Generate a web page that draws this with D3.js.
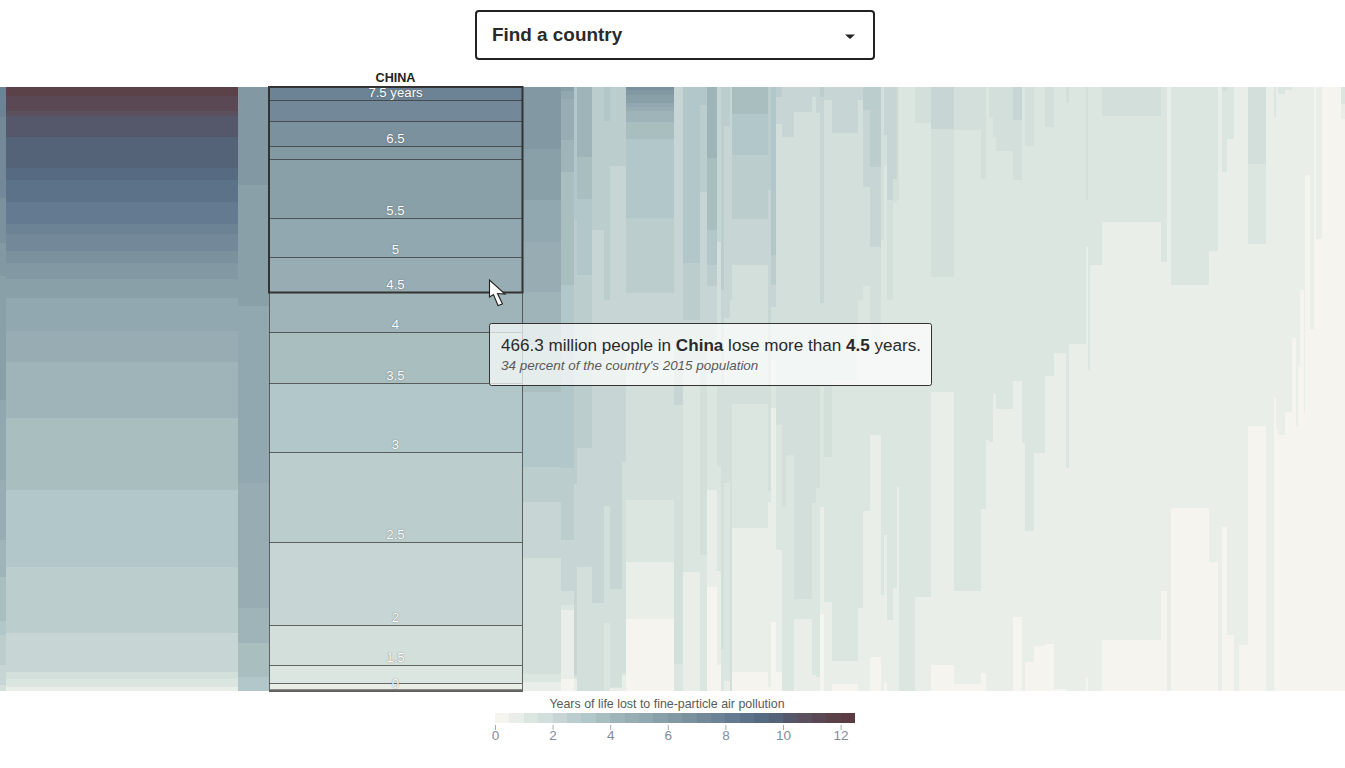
<!DOCTYPE html>
<html><head><meta charset="utf-8">
<script src="https://cdn.jsdelivr.net/npm/d3@7"></script>
<style>
html,body{margin:0;padding:0;background:#fff}
svg{display:block}
text{font-family:"Liberation Sans",Arial,sans-serif}
</style></head><body><svg id="c" width="1345" height="768"></svg>
<script>
// One colour per half-year of life lost, 0 to 12.5
const stepColors = ["#f6f4ef","#e9eee8","#dce6e1","#d2dfda","#c7d6d4","#bccdcd","#b2c7c9","#a8bebf","#9fb4b8","#98adb3","#91a8b0","#8aa0a9","#8298a3","#7b919e","#738898","#6c8295","#637a90","#5c7288","#566b82","#546377","#55586a","#5a505e","#5b4855","#5b4249","#5a3c42"];
const legendTicks = [0,2,4,6,8,10,12];
// Population of each country column, millions
const populations = [33,1276,170.5,1391.5,214.5,71.5,16.5,82.5,66,33,66,22,264,49.5,93.5,38.5,55,22,16.5,33,11,198,16.5,27.5,33,22,44,99,22,22,22,44,143,27.5,38.5,60.5,16.5,16.5,33,22,11,88,88,126.5,148.5,27.5,16.5,22,16.5,93.5,49.5,16.5,49.5,60.5,49.5,66,16.5,93.5,11,11,66,324.5,33,22,209,49.5,22,27.5,38.5,27.5,49.5,99,44,11,11,38.5,38.5,22,11,11,22,5.5,27.5,22,11,33,104.5,22];
// Highest half-year step reached in each column
const topSteps = [15,23,12,15,12,11,6,8,5,6,5,5,13,4,6,6,8,4,5,5,4,7,5,6,5,4,4,4,4,4,5,4,4,4,5,5,3,4,4,4,3,2,3,4,3,3,2,3,3,3,4,2,3,2,3,2,3,2,3,2,2,3,2,1,2,2,1,3,2,1,1,3,1,2,1,2,2,1,1,1,1,1,1,1,0,1,0,2];
// Cumulative percent of each column's people, worst-hit first, where each step ends
const stepEnds = [
[5.0,18.4,25.8,31.3,51.8,65.1,75.0,81.1,88.4,90.7,95.7,99.0,100],
[1.5,4.0,4.8,8.3,13.4,15.4,19.0,22.7,24.3,27.2,29.1,31.8,34.9,40.4,45.5,54.8,66.7,79.5,90.4,96.9,98.0,99.3,100],
[16.2,36.3,65.6,86.3,92.1,97.7,100],
[2.2,5.6,9.8,11.9,21.7,28.2,33.9,40.6,49.0,60.4,75.3,89.1,95.7,98.7,100],
[10.3,18.7,25.7,33.9,42.7,50.5,62.9,68.7,78.0,97.2,98.5,100],
[0.7,2.0,8.8,14.1,32.8,63.1,75.0,83.4,85.8,86.6,98.0,100],
[22.0,65.7,97.4,97.7,98.0,100],
[11.6,18.5,31.1,59.8,79.5,100],
[23.7,85.4,100],
[5.6,35.3,69.4,88.7,100],
[13.1,83.1,99.3,99.5,100],
[13.1,62.1,97.0,97.4,100],
[0.5,1.3,2.6,3.3,4.0,5.8,8.6,21.7,34.1,42.7,68.4,78.6,88.1,100],
[52.6,95.5,100],
[29.1,38.6,45.2,49.3,80.3,100],
[3.0,17.4,49.3,77.5,100],
[11.8,23.7,29.5,33.0,41.9,49.3,66.7,82.8,100],
[25.7,62.8,80.1,95.7,100],
[33.6,49.3,93.0,100],
[6.5,38.2,65.6,98.3,100],
[35.3,100],
[4.5,11.3,21.9,29.5,52.5,73.0,96.9,100],
[17.1,49.3,66.9,68.7,99.3,100],
[27.8,32.8,36.4,45.2,53.1,88.6,100],
[1.7,6.1,56.0,76.7,96.9,100],
[8.3,69.5,100],
[8.3,60.9,100],
[4.1,84.8,88.1,100],
[1.7,68.9,97.4,100],
[4.3,66.4,97.7,100],
[1.7,35.8,49.3,69.5,87.3,100],
[2.2,61.3,85.3,100],
[7.6,48.5,95.0,98.8,100],
[2.2,35.3,86.3,100],
[3.8,16.6,33.0,70.2,100],
[13.2,26.5,41.9,57.6,94.4,100],
[25.3,84.1,100],
[7.9,12.9,74.2,98.7,100],
[18.7,35.3,88.2,100],
[15.2,19.0,82.9,100],
[18.7,66.2,100],
[100],
[6.0,84.4,100],
[7.0,31.5,50.5,95.7,100],
[7.1,83.4,98.8,100],
[15.2,69.9,97.0,100],
[58.4,100],
[5.1,58.8,100],
[8.3,50.8,100],
[10.6,53.3,100],
[5.5,15.4,48.7,87.7,100],
[58.9,100],
[9.8,73.5,95.2,100],
[60.6,92.5,100],
[6.6,47.8,92.2,100],
[44.0,99.7,100],
[2.6,63.1,100],
[42.5,100],
[18.7,26.5,97.7,100],
[46.9,100],
[29.5,100],
[4.8,22.4,91.6,100],
[29.0,83.4,100],
[100],
[32.8,69.7,100],
[27.2,78.6,100],
[100],
[0.7,14.1,72.8,100],
[8.6,90.7,100],
[100],
[92.4,100],
[12.7,26.0,56.1,100],
[100],
[5.0,51.5,100],
[56.6,100],
[1.2,57.6,100],
[0.5,53.8,100],
[41.6,100],
[56.3,100],
[46.0,100],
[33.6,100],
[54.0,100],
[14.6,100],
[40.1,100],
[100],
[25.2,100],
[100],
[2.8,5.3,100]
];
const highlightedIndex = 3;
const highlightedName = "CHINA";
// Labels for China's step ends; empty where the picture has none
const chinaLabels = ["7.5 years","","6.5","","5.5","5","4.5","4","3.5","3","2.5","2","1.5","","0"];
const hoveredStepEnd = 6;
const legendTitle = "Years of life lost to fine-particle air pollution";
const dropdownText = "Find a country";

const svg = d3.select("#c");
const W = 1345, chartTop = 87, chartBottom = 691;
const totalPop = d3.sum(populations);
const x = d3.scaleLinear().domain([0,totalPop]).range([0,W]);
const y = d3.scaleLinear().domain([0,100]).range([chartTop,chartBottom]);

// Columns
const cumPop = d3.cumsum(populations);
const columns = populations.map((p,i)=>({x0:x(cumPop[i]-p),x1:x(cumPop[i]),top:topSteps[i],ends:stepEnds[i]}));
const bands = columns.flatMap(c=>c.ends.map((e,j)=>({x0:c.x0,x1:c.x1,from:j?c.ends[j-1]:0,to:e,step:c.top-j})));
svg.append("g").attr("shape-rendering","crispEdges").selectAll("rect").data(bands).join("rect")
  .attr("x",d=>Math.round(d.x0)).attr("width",d=>Math.round(d.x1)-Math.round(d.x0))
  .attr("y",d=>Math.round(y(d.from))).attr("height",d=>Math.round(y(d.to))-Math.round(y(d.from)))
  .attr("fill",d=>stepColors[d.step]);

// Highlighted country
const hc = columns[highlightedIndex];
const hx0 = Math.round(hc.x0), hx1 = Math.round(hc.x1);
const cx = (hx0+hx1)/2;
const hg = svg.append("g");
hg.selectAll("line").data(hc.ends).join("line")
  .attr("x1",hx0).attr("x2",hx1)
  .attr("y1",d=>Math.round(y(d))+.5).attr("y2",d=>Math.round(y(d))+.5)
  .attr("stroke","#333").attr("stroke-opacity",.72).attr("stroke-width",1);
hg.append("rect").attr("x",hx0+.5).attr("y",y(0)+.5).attr("width",hx1-hx0).attr("height",y(100)-y(0))
  .attr("fill","none").attr("stroke","#444").attr("stroke-opacity",.8);
hg.append("line").attr("x1",hx0).attr("x2",hx1+1).attr("y1",y(100)-.5).attr("y2",y(100)-.5).attr("stroke","#666").attr("stroke-width",2.5);
hg.append("rect").attr("x",hx0).attr("y",y(0)).attr("width",hx1-hx0+.5)
  .attr("height",Math.round(y(hc.ends[hoveredStepEnd]))-y(0)+.5)
  .attr("fill","none").attr("stroke","#333").attr("stroke-width",2);
hg.selectAll("text.lab").data(hc.ends).join("text").attr("class","lab")
  .attr("x",cx).attr("y",d=>Math.round(y(d))-2.6).attr("text-anchor","middle")
  .attr("font-size",13.2).attr("fill","#fff").style("text-shadow","0 0 1.2px rgba(60,60,60,.8)")
  .text((d,i)=>chinaLabels[i]);
svg.append("text").attr("x",cx).attr("y",82).attr("text-anchor","middle")
  .attr("font-size",12.6).attr("font-weight",700).attr("fill","#222").text(highlightedName);

// Dropdown
svg.append("rect").attr("x",476).attr("y",11).attr("width",398).attr("height",48).attr("rx",3)
  .attr("fill","#fff").attr("stroke","#222").attr("stroke-width",2);
svg.append("text").attr("x",492).attr("y",41).attr("font-size",18.9).attr("font-weight",700).attr("fill","#2a2a2a").text(dropdownText);
svg.append("path").attr("d","M845 34.5h10l-5 4.5z").attr("fill","#222");

// Cursor
svg.append("path").attr("d","M489.5 280V297L493.5 294.5L498 305.5L502.5 304L497.5 293.5L505 294Z")
  .attr("fill","#fff").attr("stroke","#222").attr("stroke-width",1.1).attr("stroke-linejoin","miter");

// Tooltip
const tip = svg.append("g");
tip.append("rect").attr("x",489.5).attr("y",323.5).attr("width",442).attr("height",62).attr("rx",2)
  .attr("fill","#fff").attr("fill-opacity",.7).attr("stroke","#333");
const t1 = tip.append("text").attr("x",501).attr("y",351).attr("font-size",17.1).attr("fill","#2a2a2a");
[["466.3 million people in ",400],["China",700],[" lose more than ",400],["4.5",700],[" years.",400]]
  .forEach(([s,w])=>t1.append("tspan").attr("font-weight",w).text(s));
tip.append("text").attr("x",501).attr("y",370).attr("font-size",13.45).attr("font-style","italic").attr("fill","#5a5a5a")
  .text("34 percent of the country's 2015 population");

// Legend
const lx = d3.scaleLinear().domain([0,12.5]).range([495,855]);
svg.append("text").attr("x",667).attr("y",708).attr("text-anchor","middle").attr("font-size",12.4).attr("fill","#5a5a5a").text(legendTitle);
svg.append("g").attr("shape-rendering","crispEdges").selectAll("rect").data(stepColors).join("rect")
  .attr("x",(d,i)=>Math.round(lx(i/2))).attr("width",(d,i)=>Math.round(lx((i+1)/2))-Math.round(lx(i/2))).attr("y",713).attr("height",10).attr("fill",d=>d);
const ax = svg.append("g").attr("transform","translate(0,725)")
  .call(d3.axisBottom(lx).tickValues(legendTicks).tickSize(5).tickFormat(d3.format("d")));
ax.select(".domain").remove();
ax.selectAll("line").attr("stroke","#aaa");
ax.selectAll("text").attr("font-size",13.5).attr("fill","#7f8c9b").attr("font-family",'"Liberation Sans",Arial,sans-serif').attr("dy",".55em");
</script></body></html>
